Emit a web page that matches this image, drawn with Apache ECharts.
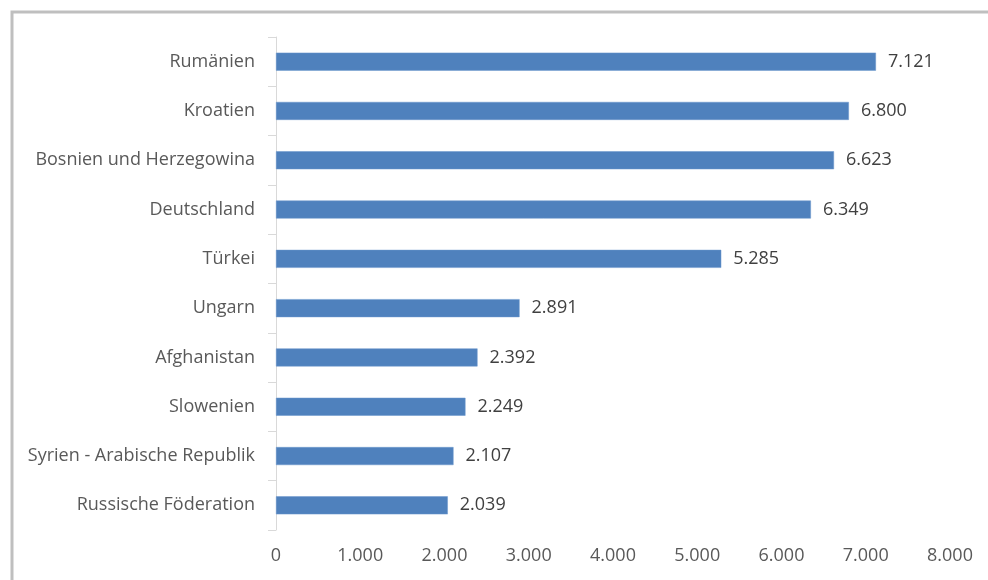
<!DOCTYPE html>
<html>
<head>
<meta charset="utf-8">
<script src="https://cdn.jsdelivr.net/npm/echarts@6/dist/echarts.min.js"></script>
<style>
    html, body { margin: 0; padding: 0; background: #fff; }
    #chart { width: 988px; height: 580px; }
</style>
</head>
<body>
<div id="chart"></div>
<script>
// Länder, von oben nach unten
const countries = [
    'Rumänien',
    'Kroatien',
    'Bosnien und Herzegowina',
    'Deutschland',
    'Türkei',
    'Ungarn',
    'Afghanistan',
    'Slowenien',
    'Syrien - Arabische Republik',
    'Russische Föderation'
];
const values = [7121, 6800, 6623, 6349, 5285, 2891, 2392, 2249, 2107, 2039];
const xTicks = [0, 1000, 2000, 3000, 4000, 5000, 6000, 7000, 8000];

// deutsche Tausendertrennung
const fmt = (v) => String(Math.round(v)).replace(/\B(?=(\d{3})+(?!\d))/g, '.');

const chart = echarts.init(document.getElementById('chart'));
chart.setOption({
    animation: false,
    textStyle: { fontFamily: 'Open Sans' },
    graphic: [{
        type: 'rect',
        shape: { x: 12, y: 12, width: 1000, height: 600 },
        style: { fill: 'none', stroke: '#bfbfbf', lineWidth: 3 },
        silent: true
    }],
    grid: {
        left: 276,
        right: 38,
        top: 37,
        bottom: 50
    },
    xAxis: {
        type: 'value',
        min: xTicks[0],
        max: xTicks[xTicks.length - 1],
        interval: 1000,
        axisLine: { show: false },
        axisTick: { show: false },
        splitLine: { show: false },
        axisLabel: {
            margin: 17,
            color: '#595959',
            fontSize: 18,
            formatter: (v) => fmt(v)
        }
    },
    yAxis: {
        type: 'category',
        inverse: true,
        data: countries,
        axisLine: { show: true, lineStyle: { color: '#d9d9d9', width: 1 } },
        axisTick: { show: true, length: 8, lineStyle: { color: '#d9d9d9' } },
        axisLabel: {
            margin: 21,
            color: '#595959',
            fontSize: 18
        }
    },
    series: [{
        type: 'bar',
        data: values,
        barWidth: 18,
        itemStyle: { color: '#4f81bd', borderColor: '#6a96cc', borderWidth: 0.5 },
        label: {
            show: true,
            position: 'right',
            distance: 12,
            color: '#404040',
            fontSize: 18,
            formatter: (p) => fmt(p.value)
        }
    }]
});
</script>
</body>
</html>
